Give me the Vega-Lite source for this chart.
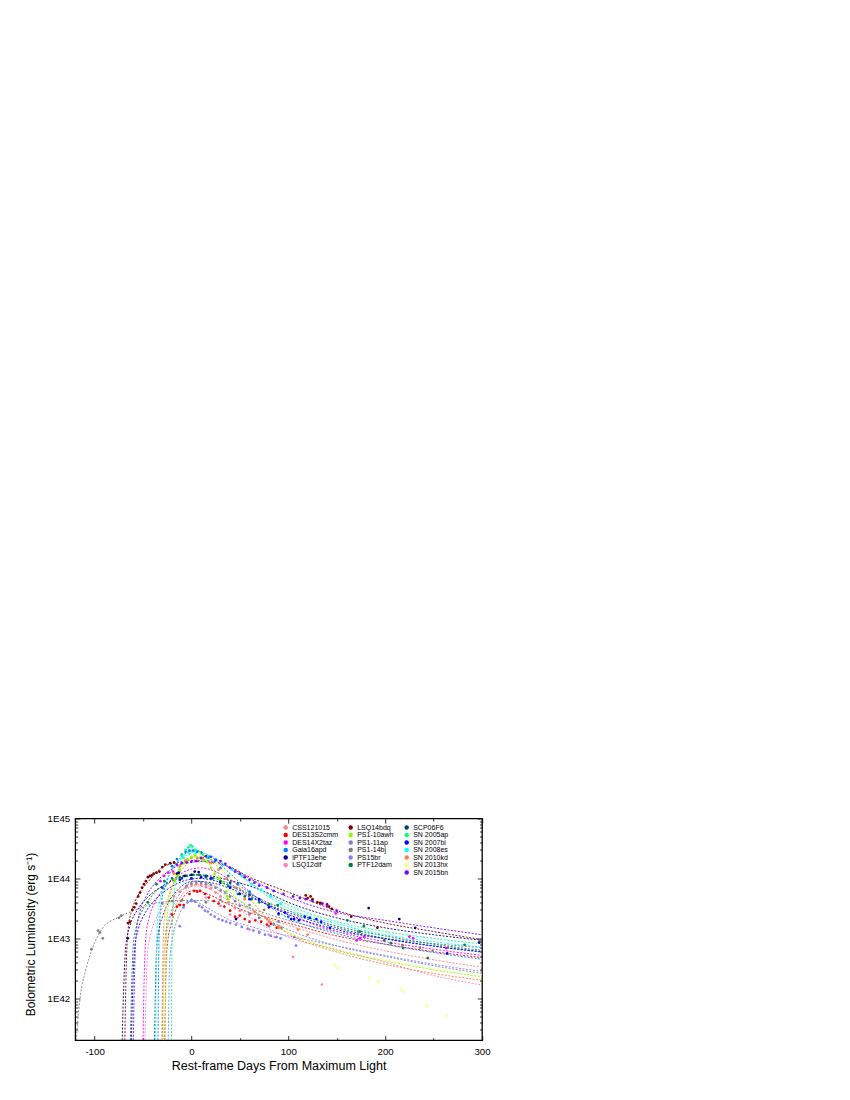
{"$schema":"https://vega.github.io/schema/vega-lite/v6.json","width":406.8,"height":221.7,"autosize":"none","padding":{"left":75.2,"top":818.5,"right":368,"bottom":59.8},"background":"white","config":{"view":{"stroke":"#000","strokeWidth":1.3},"font":"Liberation Sans"},
"datasets":{"lines":[
{"sn":"CSS121015","d":-29.5,"L":2e41},{"sn":"CSS121015","d":-28.8,"L":1.1e42},{"sn":"CSS121015","d":-27.7,"L":5.7e42},{"sn":"CSS121015","d":-25.9,"L":1.1e43},{"sn":"CSS121015","d":-22.2,"L":2.1e43},{"sn":"CSS121015","d":-16.7,"L":3.5e43},{"sn":"CSS121015","d":-9.4,"L":5.4e43},{"sn":"CSS121015","d":-0.3,"L":7.4e43},{"sn":"CSS121015","d":7,"L":8e43},{"sn":"CSS121015","d":20,"L":7.3e43},{"sn":"CSS121015","d":40,"L":4.8e43},{"sn":"CSS121015","d":60,"L":3e43},{"sn":"CSS121015","d":80,"L":2.1e43},{"sn":"CSS121015","d":100,"L":1.65e43},{"sn":"CSS121015","d":150,"L":9.5e42},{"sn":"CSS121015","d":200,"L":6.2e42},{"sn":"CSS121015","d":250,"L":4.4e42},{"sn":"CSS121015","d":300,"L":3.3e42},
{"sn":"DES13S2cmm","d":-27.5,"L":2e41},{"sn":"DES13S2cmm","d":-26.9,"L":8.8e41},{"sn":"DES13S2cmm","d":-26,"L":4.5e42},{"sn":"DES13S2cmm","d":-24.5,"L":8.8e42},{"sn":"DES13S2cmm","d":-21.4,"L":1.6e43},{"sn":"DES13S2cmm","d":-16.8,"L":2.8e43},{"sn":"DES13S2cmm","d":-10.7,"L":4.3e43},{"sn":"DES13S2cmm","d":-3.1,"L":5.9e43},{"sn":"DES13S2cmm","d":3,"L":6.3e43},{"sn":"DES13S2cmm","d":20,"L":5.2e43},{"sn":"DES13S2cmm","d":40,"L":3.6e43},{"sn":"DES13S2cmm","d":60,"L":2.7e43},{"sn":"DES13S2cmm","d":80,"L":2.2e43},{"sn":"DES13S2cmm","d":100,"L":1.8e43},{"sn":"DES13S2cmm","d":150,"L":1.1e43},{"sn":"DES13S2cmm","d":200,"L":8e42},{"sn":"DES13S2cmm","d":250,"L":6e42},{"sn":"DES13S2cmm","d":300,"L":4.8e42},
{"sn":"DES14X2taz","d":-50,"L":2e41},{"sn":"DES14X2taz","d":-48.8,"L":2.1e42},{"sn":"DES14X2taz","d":-47,"L":1.07e43},{"sn":"DES14X2taz","d":-44,"L":2.1e43},{"sn":"DES14X2taz","d":-38,"L":3.9e43},{"sn":"DES14X2taz","d":-29,"L":6.6e43},{"sn":"DES14X2taz","d":-17,"L":1.02e44},{"sn":"DES14X2taz","d":-2,"L":1.4e44},{"sn":"DES14X2taz","d":10,"L":1.5e44},{"sn":"DES14X2taz","d":20,"L":1.4e44},{"sn":"DES14X2taz","d":40,"L":9.5e43},{"sn":"DES14X2taz","d":60,"L":5.8e43},{"sn":"DES14X2taz","d":80,"L":3.6e43},{"sn":"DES14X2taz","d":100,"L":2.5e43},{"sn":"DES14X2taz","d":150,"L":1.3e43},{"sn":"DES14X2taz","d":200,"L":8.8e42},{"sn":"DES14X2taz","d":250,"L":6.6e42},{"sn":"DES14X2taz","d":300,"L":5.2e42},
{"sn":"Gaia16apd","d":-34.5,"L":2e41},{"sn":"Gaia16apd","d":-33.8,"L":4.1e42},{"sn":"Gaia16apd","d":-32.6,"L":2.1e43},{"sn":"Gaia16apd","d":-30.8,"L":4.1e43},{"sn":"Gaia16apd","d":-27,"L":7.5e43},{"sn":"Gaia16apd","d":-21.4,"L":1.28e44},{"sn":"Gaia16apd","d":-13.9,"L":1.97e44},{"sn":"Gaia16apd","d":-4.5,"L":2.7e44},{"sn":"Gaia16apd","d":3,"L":2.9e44},{"sn":"Gaia16apd","d":20,"L":2.3e44},{"sn":"Gaia16apd","d":40,"L":1.2e44},{"sn":"Gaia16apd","d":60,"L":6e43},{"sn":"Gaia16apd","d":80,"L":3.4e43},{"sn":"Gaia16apd","d":100,"L":2.2e43},{"sn":"Gaia16apd","d":150,"L":1.2e43},{"sn":"Gaia16apd","d":200,"L":8e42},{"sn":"Gaia16apd","d":250,"L":5.8e42},{"sn":"Gaia16apd","d":300,"L":4.5e42},
{"sn":"iPTF13ehe","d":-71.5,"L":2e41},{"sn":"iPTF13ehe","d":-69.9,"L":1.6e42},{"sn":"iPTF13ehe","d":-67.5,"L":8.2e42},{"sn":"iPTF13ehe","d":-63.5,"L":1.6e43},{"sn":"iPTF13ehe","d":-55.6,"L":3e43},{"sn":"iPTF13ehe","d":-43.7,"L":5.1e43},{"sn":"iPTF13ehe","d":-27.8,"L":7.8e43},{"sn":"iPTF13ehe","d":-7.9,"L":1.07e44},{"sn":"iPTF13ehe","d":8,"L":1.15e44},{"sn":"iPTF13ehe","d":20,"L":1.1e44},{"sn":"iPTF13ehe","d":40,"L":9.2e43},{"sn":"iPTF13ehe","d":60,"L":7.5e43},{"sn":"iPTF13ehe","d":80,"L":5.6e43},{"sn":"iPTF13ehe","d":100,"L":4e43},{"sn":"iPTF13ehe","d":150,"L":2.2e43},{"sn":"iPTF13ehe","d":200,"L":1.5e43},{"sn":"iPTF13ehe","d":250,"L":1.15e43},{"sn":"iPTF13ehe","d":300,"L":9.3e42},
{"sn":"LSQ12dlf","d":-48,"L":2e41},{"sn":"LSQ12dlf","d":-46.9,"L":1.05e42},{"sn":"LSQ12dlf","d":-45.4,"L":5.3e42},{"sn":"LSQ12dlf","d":-42.7,"L":1.05e43},{"sn":"LSQ12dlf","d":-37.4,"L":2e43},{"sn":"LSQ12dlf","d":-29.5,"L":3.3e43},{"sn":"LSQ12dlf","d":-18.9,"L":5.1e43},{"sn":"LSQ12dlf","d":-5.6,"L":7e43},{"sn":"LSQ12dlf","d":5,"L":7.5e43},{"sn":"LSQ12dlf","d":20,"L":6.5e43},{"sn":"LSQ12dlf","d":40,"L":4e43},{"sn":"LSQ12dlf","d":60,"L":2.3e43},{"sn":"LSQ12dlf","d":80,"L":1.45e43},{"sn":"LSQ12dlf","d":100,"L":1.05e43},{"sn":"LSQ12dlf","d":150,"L":6.5e42},{"sn":"LSQ12dlf","d":200,"L":4e42},{"sn":"LSQ12dlf","d":250,"L":2.4e42},{"sn":"LSQ12dlf","d":300,"L":1.66e42},
{"sn":"LSQ14bdq","d":-68.8,"L":2e41},{"sn":"LSQ14bdq","d":-67.4,"L":2.8e42},{"sn":"LSQ14bdq","d":-65.4,"L":1.4e43},{"sn":"LSQ14bdq","d":-61.9,"L":2.8e43},{"sn":"LSQ14bdq","d":-55,"L":5.2e43},{"sn":"LSQ14bdq","d":-44.7,"L":8.8e43},{"sn":"LSQ14bdq","d":-31,"L":1.5e44},{"sn":"LSQ14bdq","d":-13.8,"L":1.86e44},{"sn":"LSQ14bdq","d":0,"L":2e44},{"sn":"LSQ14bdq","d":20,"L":1.85e44},{"sn":"LSQ14bdq","d":40,"L":1.55e44},{"sn":"LSQ14bdq","d":60,"L":1.05e44},{"sn":"LSQ14bdq","d":80,"L":7.8e43},{"sn":"LSQ14bdq","d":100,"L":5.9e43},{"sn":"LSQ14bdq","d":150,"L":2.9e43},{"sn":"LSQ14bdq","d":200,"L":1.8e43},{"sn":"LSQ14bdq","d":250,"L":1.3e43},{"sn":"LSQ14bdq","d":300,"L":9.5e42},
{"sn":"PS1-10awh","d":-27,"L":2e41},{"sn":"PS1-10awh","d":-26.4,"L":3.2e42},{"sn":"PS1-10awh","d":-25.6,"L":1.6e43},{"sn":"PS1-10awh","d":-24.1,"L":3.2e43},{"sn":"PS1-10awh","d":-21.2,"L":6e43},{"sn":"PS1-10awh","d":-16.9,"L":1e44},{"sn":"PS1-10awh","d":-11.1,"L":1.56e44},{"sn":"PS1-10awh","d":-3.8,"L":2.1e44},{"sn":"PS1-10awh","d":2,"L":2.3e44},{"sn":"PS1-10awh","d":20,"L":1.6e44},{"sn":"PS1-10awh","d":40,"L":5.9e43},{"sn":"PS1-10awh","d":60,"L":3.3e43},{"sn":"PS1-10awh","d":80,"L":1.9e43},{"sn":"PS1-10awh","d":100,"L":1.25e43},{"sn":"PS1-10awh","d":150,"L":6.3e42},{"sn":"PS1-10awh","d":200,"L":4.2e42},{"sn":"PS1-10awh","d":250,"L":3e42},{"sn":"PS1-10awh","d":300,"L":2.3e42},
{"sn":"PS1-11ap","d":-30,"L":2e41},{"sn":"PS1-11ap","d":-29.3,"L":1.3e42},{"sn":"PS1-11ap","d":-28.2,"L":6.4e42},{"sn":"PS1-11ap","d":-26.4,"L":1.3e43},{"sn":"PS1-11ap","d":-22.8,"L":2.3e43},{"sn":"PS1-11ap","d":-17.4,"L":4e43},{"sn":"PS1-11ap","d":-10.2,"L":6.1e43},{"sn":"PS1-11ap","d":-1.2,"L":8.4e43},{"sn":"PS1-11ap","d":6,"L":9e43},{"sn":"PS1-11ap","d":20,"L":8e43},{"sn":"PS1-11ap","d":40,"L":5.3e43},{"sn":"PS1-11ap","d":60,"L":3.2e43},{"sn":"PS1-11ap","d":80,"L":2e43},{"sn":"PS1-11ap","d":100,"L":1.4e43},{"sn":"PS1-11ap","d":150,"L":7.5e42},{"sn":"PS1-11ap","d":200,"L":5e42},{"sn":"PS1-11ap","d":250,"L":3.5e42},{"sn":"PS1-11ap","d":300,"L":2.6e42},
{"sn":"PS1-14bj","d":-118.8,"L":2e41},{"sn":"PS1-14bj","d":-117.5,"L":4e41},{"sn":"PS1-14bj","d":-115,"L":1e42},{"sn":"PS1-14bj","d":-109,"L":3e42},{"sn":"PS1-14bj","d":-103,"L":6.3e42},{"sn":"PS1-14bj","d":-91.5,"L":1.5e43},{"sn":"PS1-14bj","d":-74,"L":2.3e43},{"sn":"PS1-14bj","d":-57,"L":3e43},{"sn":"PS1-14bj","d":-33,"L":4e43},{"sn":"PS1-14bj","d":0,"L":4.3e43},{"sn":"PS1-14bj","d":20,"L":4.2e43},{"sn":"PS1-14bj","d":50,"L":3.6e43},{"sn":"PS1-14bj","d":80,"L":2.5e43},{"sn":"PS1-14bj","d":100,"L":2e43},{"sn":"PS1-14bj","d":150,"L":1.3e43},{"sn":"PS1-14bj","d":200,"L":1e43},{"sn":"PS1-14bj","d":250,"L":8.2e42},{"sn":"PS1-14bj","d":300,"L":7e42},
{"sn":"PS15br","d":-24,"L":2e41},{"sn":"PS15br","d":-23.5,"L":5.9e41},{"sn":"PS15br","d":-22.8,"L":3e42},{"sn":"PS15br","d":-21.6,"L":5.9e42},{"sn":"PS15br","d":-19.2,"L":1.1e43},{"sn":"PS15br","d":-15.6,"L":1.85e43},{"sn":"PS15br","d":-10.8,"L":2.9e43},{"sn":"PS15br","d":-4.8,"L":3.9e43},{"sn":"PS15br","d":0,"L":4.2e43},{"sn":"PS15br","d":20,"L":3e43},{"sn":"PS15br","d":40,"L":2e43},{"sn":"PS15br","d":60,"L":1.6e43},{"sn":"PS15br","d":80,"L":1.3e43},{"sn":"PS15br","d":100,"L":1.1e43},{"sn":"PS15br","d":150,"L":7.5e42},{"sn":"PS15br","d":200,"L":5.2e42},{"sn":"PS15br","d":250,"L":3.7e42},{"sn":"PS15br","d":300,"L":2.8e42},
{"sn":"PTF12dam","d":-63,"L":2e41},{"sn":"PTF12dam","d":-61.7,"L":1.6e42},{"sn":"PTF12dam","d":-59.9,"L":8.2e42},{"sn":"PTF12dam","d":-56.7,"L":1.6e43},{"sn":"PTF12dam","d":-50.4,"L":3e43},{"sn":"PTF12dam","d":-41,"L":5.1e43},{"sn":"PTF12dam","d":-28.4,"L":7.8e43},{"sn":"PTF12dam","d":-12.6,"L":1.07e44},{"sn":"PTF12dam","d":0,"L":1.15e44},{"sn":"PTF12dam","d":20,"L":1.05e44},{"sn":"PTF12dam","d":40,"L":8e43},{"sn":"PTF12dam","d":60,"L":5.5e43},{"sn":"PTF12dam","d":80,"L":3.9e43},{"sn":"PTF12dam","d":100,"L":2.9e43},{"sn":"PTF12dam","d":150,"L":1.6e43},{"sn":"PTF12dam","d":200,"L":1.1e43},{"sn":"PTF12dam","d":250,"L":8e42},{"sn":"PTF12dam","d":300,"L":6.3e42},
{"sn":"SCP06F6","d":-38,"L":2e41},{"sn":"SCP06F6","d":-37.2,"L":1.3e42},{"sn":"SCP06F6","d":-36,"L":6.4e42},{"sn":"SCP06F6","d":-33.9,"L":1.3e43},{"sn":"SCP06F6","d":-29.8,"L":2.3e43},{"sn":"SCP06F6","d":-23.7,"L":4e43},{"sn":"SCP06F6","d":-15.5,"L":6.1e43},{"sn":"SCP06F6","d":-5.2,"L":8.4e43},{"sn":"SCP06F6","d":3,"L":9e43},{"sn":"SCP06F6","d":20,"L":8.5e43},{"sn":"SCP06F6","d":40,"L":6.8e43},{"sn":"SCP06F6","d":60,"L":4.9e43},{"sn":"SCP06F6","d":80,"L":3.6e43},{"sn":"SCP06F6","d":100,"L":2.7e43},{"sn":"SCP06F6","d":150,"L":1.5e43},{"sn":"SCP06F6","d":200,"L":1e43},{"sn":"SCP06F6","d":250,"L":7.5e42},{"sn":"SCP06F6","d":300,"L":6e42},
{"sn":"SN 2005ap","d":-20.6,"L":2e41},{"sn":"SN 2005ap","d":-20.2,"L":4.3e42},{"sn":"SN 2005ap","d":-19.6,"L":2.2e43},{"sn":"SN 2005ap","d":-18.5,"L":4.3e43},{"sn":"SN 2005ap","d":-16.5,"L":8.1e43},{"sn":"SN 2005ap","d":-13.4,"L":1.36e44},{"sn":"SN 2005ap","d":-9.3,"L":2.1e44},{"sn":"SN 2005ap","d":-4.1,"L":2.9e44},{"sn":"SN 2005ap","d":0,"L":3.1e44},{"sn":"SN 2005ap","d":20,"L":2.3e44},{"sn":"SN 2005ap","d":40,"L":1.45e44},{"sn":"SN 2005ap","d":60,"L":8.8e43},{"sn":"SN 2005ap","d":80,"L":5.3e43},{"sn":"SN 2005ap","d":100,"L":3.6e43},{"sn":"SN 2005ap","d":150,"L":1.9e43},{"sn":"SN 2005ap","d":200,"L":1.3e43},{"sn":"SN 2005ap","d":250,"L":1e43},{"sn":"SN 2005ap","d":300,"L":8.1e42},
{"sn":"SN 2007bi","d":-62,"L":2e41},{"sn":"SN 2007bi","d":-60.6,"L":1.4e42},{"sn":"SN 2007bi","d":-58.5,"L":7.1e42},{"sn":"SN 2007bi","d":-55,"L":1.4e43},{"sn":"SN 2007bi","d":-48,"L":2.6e43},{"sn":"SN 2007bi","d":-37.5,"L":4.4e43},{"sn":"SN 2007bi","d":-23.5,"L":6.8e43},{"sn":"SN 2007bi","d":-6,"L":9.3e43},{"sn":"SN 2007bi","d":8,"L":1e44},{"sn":"SN 2007bi","d":20,"L":9.5e43},{"sn":"SN 2007bi","d":40,"L":7.5e43},{"sn":"SN 2007bi","d":60,"L":5.2e43},{"sn":"SN 2007bi","d":80,"L":3.5e43},{"sn":"SN 2007bi","d":100,"L":2.5e43},{"sn":"SN 2007bi","d":150,"L":1.4e43},{"sn":"SN 2007bi","d":200,"L":9.8e42},{"sn":"SN 2007bi","d":250,"L":7.4e42},{"sn":"SN 2007bi","d":300,"L":5.9e42},
{"sn":"SN 2008es","d":-37,"L":2e41},{"sn":"SN 2008es","d":-36.2,"L":3.8e42},{"sn":"SN 2008es","d":-35,"L":1.9e43},{"sn":"SN 2008es","d":-32.9,"L":3.8e43},{"sn":"SN 2008es","d":-28.8,"L":7e43},{"sn":"SN 2008es","d":-22.7,"L":1.19e44},{"sn":"SN 2008es","d":-14.5,"L":1.84e44},{"sn":"SN 2008es","d":-4.2,"L":2.5e44},{"sn":"SN 2008es","d":4,"L":2.7e44},{"sn":"SN 2008es","d":20,"L":2.4e44},{"sn":"SN 2008es","d":40,"L":1.5e44},{"sn":"SN 2008es","d":60,"L":8.5e43},{"sn":"SN 2008es","d":80,"L":4.9e43},{"sn":"SN 2008es","d":100,"L":3.2e43},{"sn":"SN 2008es","d":150,"L":1.75e43},{"sn":"SN 2008es","d":200,"L":1.15e43},{"sn":"SN 2008es","d":250,"L":8.8e42},{"sn":"SN 2008es","d":300,"L":7.1e42},
{"sn":"SN 2010kd","d":-30.5,"L":2e41},{"sn":"SN 2010kd","d":-29.7,"L":2.9e42},{"sn":"SN 2010kd","d":-28.6,"L":1.5e43},{"sn":"SN 2010kd","d":-26.7,"L":2.9e43},{"sn":"SN 2010kd","d":-22.8,"L":5.5e43},{"sn":"SN 2010kd","d":-17,"L":9.2e43},{"sn":"SN 2010kd","d":-9.3,"L":1.43e44},{"sn":"SN 2010kd","d":0.3,"L":1.95e44},{"sn":"SN 2010kd","d":8,"L":2.1e44},{"sn":"SN 2010kd","d":20,"L":1.9e44},{"sn":"SN 2010kd","d":40,"L":1e44},{"sn":"SN 2010kd","d":60,"L":4.6e43},{"sn":"SN 2010kd","d":80,"L":2e43},{"sn":"SN 2010kd","d":100,"L":1.2e43},{"sn":"SN 2010kd","d":150,"L":5.9e42},{"sn":"SN 2010kd","d":200,"L":3.7e42},{"sn":"SN 2010kd","d":250,"L":2.6e42},{"sn":"SN 2010kd","d":300,"L":2e42},
{"sn":"SN 2013hx","d":-29,"L":2e41},{"sn":"SN 2013hx","d":-28.3,"L":3.6e42},{"sn":"SN 2013hx","d":-27.3,"L":1.85e43},{"sn":"SN 2013hx","d":-25.6,"L":3.6e43},{"sn":"SN 2013hx","d":-22.2,"L":6.8e43},{"sn":"SN 2013hx","d":-17.1,"L":1.14e44},{"sn":"SN 2013hx","d":-10.3,"L":1.77e44},{"sn":"SN 2013hx","d":-1.8,"L":2.4e44},{"sn":"SN 2013hx","d":5,"L":2.6e44},{"sn":"SN 2013hx","d":20,"L":2.2e44},{"sn":"SN 2013hx","d":40,"L":1.1e44},{"sn":"SN 2013hx","d":60,"L":5e43},{"sn":"SN 2013hx","d":80,"L":2.3e43},{"sn":"SN 2013hx","d":100,"L":1.3e43},{"sn":"SN 2013hx","d":150,"L":6.8e42},{"sn":"SN 2013hx","d":200,"L":4.4e42},{"sn":"SN 2013hx","d":250,"L":3.2e42},{"sn":"SN 2013hx","d":300,"L":2.5e42},
{"sn":"SN 2015bn","d":-60,"L":2e41},{"sn":"SN 2015bn","d":-58.7,"L":2.7e42},{"sn":"SN 2015bn","d":-56.8,"L":1.35e43},{"sn":"SN 2015bn","d":-53.5,"L":2.7e43},{"sn":"SN 2015bn","d":-47,"L":4.9e43},{"sn":"SN 2015bn","d":-37.3,"L":8.4e43},{"sn":"SN 2015bn","d":-24.3,"L":1.29e44},{"sn":"SN 2015bn","d":-8,"L":1.77e44},{"sn":"SN 2015bn","d":5,"L":1.9e44},{"sn":"SN 2015bn","d":20,"L":1.95e44},{"sn":"SN 2015bn","d":40,"L":1.5e44},{"sn":"SN 2015bn","d":60,"L":1e44},{"sn":"SN 2015bn","d":80,"L":6.8e43},{"sn":"SN 2015bn","d":100,"L":4.9e43},{"sn":"SN 2015bn","d":150,"L":2.7e43},{"sn":"SN 2015bn","d":200,"L":2e43},{"sn":"SN 2015bn","d":250,"L":1.5e43},{"sn":"SN 2015bn","d":300,"L":1.15e43}
],
"pts":[
{"sn":"PS1-14bj","d":-103.2,"L":6.6e42},{"sn":"PS1-14bj","d":-96.4,"L":1.35e43},{"sn":"PS1-14bj","d":-94.6,"L":1.25e43},{"sn":"PS1-14bj","d":-91.5,"L":1e43},{"sn":"PS1-14bj","d":-74.8,"L":2.2e43},{"sn":"PS1-14bj","d":-72.4,"L":2.4e43},{"sn":"PS1-14bj","d":-30,"L":3.8e43},{"sn":"PS1-14bj","d":-20,"L":4.2e43},{"sn":"PS1-14bj","d":-10,"L":4.3e43},{"sn":"PS1-14bj","d":0,"L":4.4e43},{"sn":"PS1-14bj","d":15,"L":4e43},{"sn":"PS1-14bj","d":30,"L":4.4e43},{"sn":"PS1-14bj","d":45,"L":4.2e43},{"sn":"PS1-14bj","d":60,"L":3.6e43},{"sn":"PS1-14bj","d":75,"L":3e43},{"sn":"PS1-14bj","d":90,"L":2.5e43},{"sn":"PS1-14bj","d":93,"L":1.5e43},{"sn":"PS1-14bj","d":172,"L":1.3e43},{"sn":"PS1-14bj","d":218,"L":7.7e42},{"sn":"PS1-14bj","d":236,"L":7e42},{"sn":"PS1-14bj","d":249,"L":6.2e42},{"sn":"PS1-14bj","d":298,"L":9.2e42},
{"sn":"CSS121015","d":-18,"L":5e43},{"sn":"CSS121015","d":-12,"L":6e43},{"sn":"CSS121015","d":-6,"L":7e43},{"sn":"CSS121015","d":0,"L":7.8e43},{"sn":"CSS121015","d":5,"L":8e43},{"sn":"CSS121015","d":10,"L":7.8e43},{"sn":"CSS121015","d":15,"L":7.2e43},{"sn":"CSS121015","d":20,"L":6.8e43},{"sn":"CSS121015","d":25,"L":5.8e43},{"sn":"CSS121015","d":30,"L":5e43},{"sn":"CSS121015","d":38,"L":4e43},{"sn":"CSS121015","d":45,"L":3.2e43},{"sn":"CSS121015","d":50,"L":2.9e43},{"sn":"CSS121015","d":60,"L":2.5e43},{"sn":"CSS121015","d":70,"L":2.2e43},{"sn":"CSS121015","d":80,"L":1.9e43},{"sn":"CSS121015","d":90,"L":1.6e43},
{"sn":"PS1-11ap","d":-5,"L":7.5e43},{"sn":"PS1-11ap","d":0,"L":8.2e43},{"sn":"PS1-11ap","d":5,"L":8.7e43},{"sn":"PS1-11ap","d":10,"L":8.5e43},{"sn":"PS1-11ap","d":15,"L":8e43},{"sn":"PS1-11ap","d":20,"L":7.8e43},{"sn":"PS1-11ap","d":25,"L":7e43},{"sn":"PS1-11ap","d":30,"L":6.3e43},{"sn":"PS1-11ap","d":35,"L":5.8e43},{"sn":"PS1-11ap","d":40,"L":5e43},{"sn":"PS1-11ap","d":50,"L":3.5e43},{"sn":"PS1-11ap","d":60,"L":2.6e43},{"sn":"PS1-11ap","d":70,"L":2.2e43},{"sn":"PS1-11ap","d":80,"L":1.6e43},{"sn":"PS1-11ap","d":85,"L":1.7e43},{"sn":"PS1-11ap","d":90,"L":1.9e43},
{"sn":"LSQ12dlf","d":15,"L":4.8e43},{"sn":"LSQ12dlf","d":30,"L":3.5e43},{"sn":"LSQ12dlf","d":40,"L":2.5e43},{"sn":"LSQ12dlf","d":48,"L":2.2e43},{"sn":"LSQ12dlf","d":60,"L":1.4e43},{"sn":"LSQ12dlf","d":70,"L":1.3e43},{"sn":"LSQ12dlf","d":80,"L":1.15e43},{"sn":"LSQ12dlf","d":86,"L":1.05e43},{"sn":"LSQ12dlf","d":105,"L":4.9e42},{"sn":"LSQ12dlf","d":134.7,"L":1.7e42},
{"sn":"DES13S2cmm","d":-20,"L":2.5e43},{"sn":"DES13S2cmm","d":-15,"L":3.4e43},{"sn":"DES13S2cmm","d":-12,"L":3.6e43},{"sn":"DES13S2cmm","d":-8,"L":3.6e43},{"sn":"DES13S2cmm","d":-2,"L":5.5e43},{"sn":"DES13S2cmm","d":3,"L":6.2e43},{"sn":"DES13S2cmm","d":6,"L":6e43},{"sn":"DES13S2cmm","d":9,"L":6.2e43},{"sn":"DES13S2cmm","d":14,"L":5.5e43},{"sn":"DES13S2cmm","d":18,"L":4.8e43},{"sn":"DES13S2cmm","d":23,"L":4.2e43},{"sn":"DES13S2cmm","d":28,"L":3.8e43},{"sn":"DES13S2cmm","d":34,"L":3.4e43},{"sn":"DES13S2cmm","d":40,"L":2.9e43},{"sn":"DES13S2cmm","d":45,"L":2.3e43},{"sn":"DES13S2cmm","d":50,"L":2.4e43},{"sn":"DES13S2cmm","d":55,"L":2.1e43},{"sn":"DES13S2cmm","d":60,"L":1.9e43},{"sn":"DES13S2cmm","d":66,"L":2e43},{"sn":"DES13S2cmm","d":72,"L":1.9e43},{"sn":"DES13S2cmm","d":78,"L":1.7e43},{"sn":"DES13S2cmm","d":82,"L":1.75e43},{"sn":"DES13S2cmm","d":88,"L":1.5e43},
{"sn":"PS15br","d":-12,"L":1.6e43},{"sn":"PS15br","d":-8,"L":3.3e43},{"sn":"PS15br","d":-4,"L":4e43},{"sn":"PS15br","d":0,"L":4.2e43},{"sn":"PS15br","d":4,"L":4.1e43},{"sn":"PS15br","d":8,"L":3.5e43},{"sn":"PS15br","d":11,"L":3.3e43},{"sn":"PS15br","d":14,"L":2.9e43},{"sn":"PS15br","d":17,"L":2.8e43},{"sn":"PS15br","d":20,"L":2.5e43},{"sn":"PS15br","d":24,"L":2.3e43},{"sn":"PS15br","d":28,"L":2.1e43},{"sn":"PS15br","d":32,"L":2e43},{"sn":"PS15br","d":36,"L":1.9e43},{"sn":"PS15br","d":40,"L":1.8e43},{"sn":"PS15br","d":46,"L":1.7e43},{"sn":"PS15br","d":52,"L":1.55e43},{"sn":"PS15br","d":58,"L":1.45e43},{"sn":"PS15br","d":64,"L":1.35e43},{"sn":"PS15br","d":70,"L":1.25e43},{"sn":"PS15br","d":76,"L":1.15e43},{"sn":"PS15br","d":82,"L":1.1e43},{"sn":"PS15br","d":88,"L":1.05e43},{"sn":"PS15br","d":92,"L":1e43},{"sn":"PS15br","d":106,"L":1.05e43},{"sn":"PS15br","d":108,"L":7.6e42},
{"sn":"PTF12dam","d":-45,"L":4e43},{"sn":"PTF12dam","d":-36,"L":8e43},{"sn":"PTF12dam","d":-28,"L":9e43},{"sn":"PTF12dam","d":-20,"L":1e44},{"sn":"PTF12dam","d":-12,"L":1.05e44},{"sn":"PTF12dam","d":-5,"L":1.1e44},{"sn":"PTF12dam","d":2,"L":1.15e44},{"sn":"PTF12dam","d":8,"L":1.15e44},{"sn":"PTF12dam","d":15,"L":1.05e44},{"sn":"PTF12dam","d":22,"L":1e44},{"sn":"PTF12dam","d":30,"L":9e43},{"sn":"PTF12dam","d":38,"L":7.5e43},{"sn":"PTF12dam","d":48,"L":5.5e43},{"sn":"PTF12dam","d":55,"L":5e43},{"sn":"PTF12dam","d":62,"L":4.5e43},{"sn":"PTF12dam","d":70,"L":4e43},{"sn":"PTF12dam","d":80,"L":3.7e43},{"sn":"PTF12dam","d":89,"L":3.6e43},{"sn":"PTF12dam","d":161,"L":2e43},{"sn":"PTF12dam","d":178,"L":1.6e43},{"sn":"PTF12dam","d":174,"L":1.3e43},{"sn":"PTF12dam","d":199,"L":9.3e42},{"sn":"PTF12dam","d":206,"L":8.3e42},{"sn":"PTF12dam","d":218.6,"L":6.9e42},{"sn":"PTF12dam","d":244,"L":4.7e42},{"sn":"PTF12dam","d":282,"L":7.8e42},
{"sn":"SN 2007bi","d":-12,"L":9.5e43},{"sn":"SN 2007bi","d":0,"L":1e44},{"sn":"SN 2007bi","d":10,"L":1.05e44},{"sn":"SN 2007bi","d":20,"L":1e44},{"sn":"SN 2007bi","d":30,"L":8.5e43},{"sn":"SN 2007bi","d":40,"L":7e43},{"sn":"SN 2007bi","d":50,"L":5.5e43},{"sn":"SN 2007bi","d":60,"L":4.5e43},{"sn":"SN 2007bi","d":70,"L":4.5e43},{"sn":"SN 2007bi","d":80,"L":3.3e43},{"sn":"SN 2007bi","d":90,"L":2.6e43},{"sn":"SN 2007bi","d":96.5,"L":2.7e43},{"sn":"SN 2007bi","d":103,"L":2.1e43},{"sn":"SN 2007bi","d":106,"L":2.1e43},{"sn":"SN 2007bi","d":111,"L":2e43},{"sn":"SN 2007bi","d":117,"L":2.3e43},{"sn":"SN 2007bi","d":122,"L":2.2e43},{"sn":"SN 2007bi","d":129,"L":2.1e43},{"sn":"SN 2007bi","d":134,"L":1.9e43},{"sn":"SN 2007bi","d":143,"L":1.5e43},{"sn":"SN 2007bi","d":264,"L":5.6e42},
{"sn":"iPTF13ehe","d":-65.7,"L":1e43},{"sn":"iPTF13ehe","d":-15,"L":1.2e44},{"sn":"iPTF13ehe","d":-13,"L":1.25e44},{"sn":"iPTF13ehe","d":-7,"L":1.1e44},{"sn":"iPTF13ehe","d":0,"L":1.15e44},{"sn":"iPTF13ehe","d":3.4,"L":1.3e44},{"sn":"iPTF13ehe","d":7.5,"L":1.28e44},{"sn":"iPTF13ehe","d":46,"L":2.1e43},{"sn":"iPTF13ehe","d":183,"L":3.2e43},{"sn":"iPTF13ehe","d":214.6,"L":2.1e43},{"sn":"iPTF13ehe","d":231,"L":1.5e43},{"sn":"iPTF13ehe","d":297,"L":8.5e42},
{"sn":"SCP06F6","d":-30,"L":7e43},{"sn":"SCP06F6","d":-10,"L":1e44},{"sn":"SCP06F6","d":0,"L":1e44},{"sn":"SCP06F6","d":15,"L":1.1e44},{"sn":"SCP06F6","d":40,"L":8.5e43},{"sn":"SCP06F6","d":60,"L":5.3e43},
{"sn":"DES14X2taz","d":-32,"L":9e43},{"sn":"DES14X2taz","d":-28,"L":1.1e44},{"sn":"DES14X2taz","d":-24,"L":1.25e44},{"sn":"DES14X2taz","d":-19,"L":1.3e44},{"sn":"DES14X2taz","d":149,"L":2.6e43},{"sn":"DES14X2taz","d":170.6,"L":9.3e42},{"sn":"DES14X2taz","d":174,"L":1e43},{"sn":"DES14X2taz","d":178.5,"L":1.05e43},{"sn":"DES14X2taz","d":225,"L":1.07e43},{"sn":"DES14X2taz","d":229,"L":1e43},{"sn":"DES14X2taz","d":263,"L":6.9e42},
{"sn":"SN 2010kd","d":-18,"L":1.2e44},{"sn":"SN 2010kd","d":-12,"L":1.6e44},{"sn":"SN 2010kd","d":-6,"L":2e44},{"sn":"SN 2010kd","d":0,"L":2.2e44},{"sn":"SN 2010kd","d":6,"L":2.2e44},{"sn":"SN 2010kd","d":12,"L":2.2e44},{"sn":"SN 2010kd","d":20,"L":1.8e44},{"sn":"SN 2010kd","d":28,"L":1.4e44},{"sn":"SN 2010kd","d":36,"L":1e44},{"sn":"SN 2010kd","d":45,"L":7e43},{"sn":"SN 2010kd","d":55,"L":4.5e43},{"sn":"SN 2010kd","d":65,"L":2.8e43},{"sn":"SN 2010kd","d":78,"L":2.1e43},{"sn":"SN 2010kd","d":90,"L":1.5e43},{"sn":"SN 2010kd","d":110,"L":1.4e43},{"sn":"SN 2010kd","d":120,"L":1.15e43},
{"sn":"SN 2008es","d":-8,"L":2.2e44},{"sn":"SN 2008es","d":-2,"L":2.6e44},{"sn":"SN 2008es","d":4,"L":2.6e44},{"sn":"SN 2008es","d":10,"L":2.6e44},{"sn":"SN 2008es","d":18,"L":2.3e44},{"sn":"SN 2008es","d":26,"L":2e44},{"sn":"SN 2008es","d":34,"L":1.7e44},{"sn":"SN 2008es","d":42,"L":1.4e44},{"sn":"SN 2008es","d":52,"L":1.1e44},{"sn":"SN 2008es","d":62,"L":8e43},{"sn":"SN 2008es","d":72,"L":6.5e43},{"sn":"SN 2008es","d":82,"L":5e43},{"sn":"SN 2008es","d":92,"L":3.8e43},
{"sn":"Gaia16apd","d":-20,"L":1.6e44},{"sn":"Gaia16apd","d":-15,"L":2.1e44},{"sn":"Gaia16apd","d":-10,"L":2.5e44},{"sn":"Gaia16apd","d":-6,"L":2.8e44},{"sn":"Gaia16apd","d":-2,"L":2.9e44},{"sn":"Gaia16apd","d":2,"L":2.9e44},{"sn":"Gaia16apd","d":6,"L":2.8e44},{"sn":"Gaia16apd","d":10,"L":2.7e44},{"sn":"Gaia16apd","d":14,"L":2.4e44},{"sn":"Gaia16apd","d":18,"L":2.2e44},{"sn":"Gaia16apd","d":24,"L":1.9e44},{"sn":"Gaia16apd","d":30,"L":1.5e44},{"sn":"Gaia16apd","d":38,"L":1.1e44},{"sn":"Gaia16apd","d":48,"L":8e43},{"sn":"Gaia16apd","d":60,"L":6e43},{"sn":"Gaia16apd","d":100,"L":2.3e43},
{"sn":"SN 2005ap","d":-10,"L":2.4e44},{"sn":"SN 2005ap","d":-6,"L":3e44},{"sn":"SN 2005ap","d":-3,"L":3.3e44},{"sn":"SN 2005ap","d":-1,"L":3.6e44},{"sn":"SN 2005ap","d":1,"L":3.4e44},{"sn":"SN 2005ap","d":4,"L":3e44},{"sn":"SN 2005ap","d":8,"L":2.7e44},{"sn":"SN 2005ap","d":12,"L":2.5e44},{"sn":"SN 2005ap","d":16,"L":2.2e44},{"sn":"SN 2005ap","d":20,"L":2.1e44},
{"sn":"SN 2013hx","d":-8,"L":1.7e44},{"sn":"SN 2013hx","d":-3,"L":2.1e44},{"sn":"SN 2013hx","d":3,"L":2.5e44},{"sn":"SN 2013hx","d":8,"L":2.6e44},{"sn":"SN 2013hx","d":14,"L":2.5e44},{"sn":"SN 2013hx","d":20,"L":2.2e44},{"sn":"SN 2013hx","d":26,"L":1.8e44},{"sn":"SN 2013hx","d":33,"L":1.3e44},{"sn":"SN 2013hx","d":40,"L":1e44},{"sn":"SN 2013hx","d":148,"L":3.6e42},{"sn":"SN 2013hx","d":151,"L":3.2e42},{"sn":"SN 2013hx","d":184,"L":2.2e42},{"sn":"SN 2013hx","d":193,"L":1.9e42},{"sn":"SN 2013hx","d":216,"L":1.45e42},{"sn":"SN 2013hx","d":218.6,"L":1.3e42},{"sn":"SN 2013hx","d":243,"L":7.6e41},{"sn":"SN 2013hx","d":263.6,"L":5.1e41},
{"sn":"PS1-10awh","d":-17,"L":9e43},{"sn":"PS1-10awh","d":-14,"L":1.1e44},{"sn":"PS1-10awh","d":-12,"L":1.4e44},{"sn":"PS1-10awh","d":-8,"L":1.8e44},{"sn":"PS1-10awh","d":-4,"L":2.1e44},{"sn":"PS1-10awh","d":0,"L":2.3e44},{"sn":"PS1-10awh","d":4,"L":2.4e44},{"sn":"PS1-10awh","d":8,"L":2.2e44},{"sn":"PS1-10awh","d":12,"L":2e44},{"sn":"PS1-10awh","d":16,"L":1.9e44},{"sn":"PS1-10awh","d":20,"L":1.5e44},{"sn":"PS1-10awh","d":24,"L":1.2e44},{"sn":"PS1-10awh","d":28,"L":1e44},{"sn":"PS1-10awh","d":32,"L":8.5e43},{"sn":"PS1-10awh","d":36,"L":6e43},{"sn":"PS1-10awh","d":37,"L":5e43},{"sn":"PS1-10awh","d":38,"L":4.5e43},
{"sn":"LSQ14bdq","d":-65.5,"L":1.8e43},{"sn":"LSQ14bdq","d":-63.5,"L":1.9e43},{"sn":"LSQ14bdq","d":-61,"L":3e43},{"sn":"LSQ14bdq","d":-59,"L":3.3e43},{"sn":"LSQ14bdq","d":-57,"L":3.8e43},{"sn":"LSQ14bdq","d":-55,"L":5e43},{"sn":"LSQ14bdq","d":-53,"L":5.8e43},{"sn":"LSQ14bdq","d":-51,"L":7e43},{"sn":"LSQ14bdq","d":-49,"L":8e43},{"sn":"LSQ14bdq","d":-47,"L":9e43},{"sn":"LSQ14bdq","d":-45,"L":1.05e44},{"sn":"LSQ14bdq","d":-43,"L":1.1e44},{"sn":"LSQ14bdq","d":-41,"L":1.12e44},{"sn":"LSQ14bdq","d":-39,"L":1.2e44},{"sn":"LSQ14bdq","d":-36,"L":1.25e44},{"sn":"LSQ14bdq","d":-33,"L":1.3e44},{"sn":"LSQ14bdq","d":-30,"L":1.55e44},{"sn":"LSQ14bdq","d":-27,"L":1.7e44},{"sn":"LSQ14bdq","d":-22,"L":1.8e44},{"sn":"LSQ14bdq","d":-18,"L":1.85e44},{"sn":"LSQ14bdq","d":118,"L":5.2e43},{"sn":"LSQ14bdq","d":120,"L":4.7e43},{"sn":"LSQ14bdq","d":123,"L":5e43},{"sn":"LSQ14bdq","d":125,"L":4.5e43},{"sn":"LSQ14bdq","d":130,"L":4e43},{"sn":"LSQ14bdq","d":133,"L":3.9e43},{"sn":"LSQ14bdq","d":135,"L":3.8e43},{"sn":"LSQ14bdq","d":140,"L":3.7e43},{"sn":"LSQ14bdq","d":142,"L":3.4e43},{"sn":"LSQ14bdq","d":145,"L":3.1e43},{"sn":"LSQ14bdq","d":165,"L":2.3e43},{"sn":"LSQ14bdq","d":192,"L":1.5e43},
{"sn":"SN 2015bn","d":-15,"L":1.7e44},{"sn":"SN 2015bn","d":-10,"L":1.8e44},{"sn":"SN 2015bn","d":-5,"L":1.85e44},{"sn":"SN 2015bn","d":0,"L":1.9e44},{"sn":"SN 2015bn","d":5,"L":1.95e44},{"sn":"SN 2015bn","d":10,"L":2.2e44},{"sn":"SN 2015bn","d":15,"L":2.35e44},{"sn":"SN 2015bn","d":20,"L":2.3e44},{"sn":"SN 2015bn","d":25,"L":2.05e44},{"sn":"SN 2015bn","d":30,"L":1.95e44},{"sn":"SN 2015bn","d":35,"L":1.75e44},{"sn":"SN 2015bn","d":40,"L":1.5e44},{"sn":"SN 2015bn","d":45,"L":1.3e44},{"sn":"SN 2015bn","d":50,"L":1.2e44},{"sn":"SN 2015bn","d":55,"L":1.05e44},{"sn":"SN 2015bn","d":60,"L":9.5e43},{"sn":"SN 2015bn","d":65,"L":8.5e43},{"sn":"SN 2015bn","d":70,"L":7.6e43},{"sn":"SN 2015bn","d":78,"L":7e43},{"sn":"SN 2015bn","d":85,"L":6.2e43},{"sn":"SN 2015bn","d":95,"L":5.5e43},{"sn":"SN 2015bn","d":105,"L":5e43},{"sn":"SN 2015bn","d":112,"L":4.7e43},{"sn":"SN 2015bn","d":118,"L":4.5e43},{"sn":"SN 2015bn","d":125,"L":4.2e43},{"sn":"SN 2015bn","d":135,"L":3.8e43},{"sn":"SN 2015bn","d":140,"L":3.5e43},{"sn":"SN 2015bn","d":150,"L":2.9e43}
],
"frame":[{"d":0,"L":1e43}]},
"layer":[
{"data":{"name":"lines"},"mark":{"type":"line","interpolate":"monotone","strokeWidth":0.9,"strokeDash":[2,1.5],"clip":true},
"encoding":{"x":{"field":"d","type":"quantitative","scale":{"domain":[-120,300],"nice":false,"zero":false},"axis":{"orient":"bottom","values":[-100,0,100,200,300],"labelExpr":"''+datum.value","title":"Rest-frame Days From Maximum Light","titleFont":"Liberation Sans","titleFontSize":12.5,"titleFontWeight":"normal","titleColor":"#000","titlePadding":4,"labelFont":"Liberation Sans","labelFontSize":9.7,"labelColor":"#000","labelPadding":10.5,"labelFlush":false,"tickSize":-4.7,"tickColor":"#000","tickWidth":0.8,"domain":false,"grid":false}},
"y":{"field":"L","type":"quantitative","scale":{"type":"log","base":10,"domain":[2e41,1e45],"nice":false},"axis":{"orient":"left","values":[1e42,1e43,1e44,1e45],"labelExpr":"'1E'+round(log(datum.value)/LN10)","title":"Bolometric Luminosity (erg s⁻¹)","titleFont":"Liberation Sans","titleFontSize":12,"titleFontWeight":"normal","titleColor":"#000","titleX":-38,"titleY":115.5,"labelFont":"Liberation Sans","labelFontSize":9.7,"labelColor":"#000","labelPadding":10.2,"labelFlush":false,"tickSize":-4.7,"tickColor":"#000","tickWidth":0.8,"domain":false,"grid":false}},
"color":{"field":"sn","type":"nominal","legend":{"orient":"none","legendX":207,"legendY":5.5,"title":null,"direction":"vertical","columns":3,"columnPadding":9,"rowPadding":-0.5,"symbolType":"circle","symbolSize":20,"symbolOpacity":1,"symbolStrokeWidth":0,"symbolDash":[],"labelFont":"Liberation Sans","labelFontSize":7,"labelColor":"#000","labelOffset":3,"labelLimit":60,"clipHeight":7,"padding":0},"scale":{"domain":["CSS121015","DES13S2cmm","DES14X2taz","Gaia16apd","iPTF13ehe","LSQ12dlf"," ","LSQ14bdq","PS1-10awh","PS1-11ap","PS1-14bj","PS15br","PTF12dam","  ","SCP06F6","SN 2005ap","SN 2007bi","SN 2008es","SN 2010kd","SN 2013hx","SN 2015bn"],"range":["#ff8080","#ff0000","#ff00ff","#0080ff","#000080","#ff80c0","#ffffff","#800000","#80ff00","#8080c0","#808080","#8080ff","#008040","#ffffff","#004080","#00ff80","#0000ff","#00ffff","#ff8040","#ffff80","#8000ff"]}}}},
{"data":{"name":"pts"},"mark":{"type":"point","filled":true,"size":7.5,"opacity":1,"clip":true},
"encoding":{"x":{"field":"d","type":"quantitative","axis":{"orient":"top","values":[-100,0,100,200,300],"labels":false,"title":null,"tickSize":-4.7,"tickColor":"#000","tickWidth":0.8,"domain":false,"grid":false}},
"y":{"field":"L","type":"quantitative","axis":{"orient":"right","values":[1e42,1e43,1e44,1e45],"labels":false,"title":null,"tickSize":-4.7,"tickColor":"#000","tickWidth":0.8,"domain":false,"grid":false}},
"color":{"field":"sn","type":"nominal"}}},
{"data":{"name":"frame"},"mark":{"type":"point","opacity":0},
"encoding":{"x":{"field":"d","type":"quantitative","axis":{"orient":"bottom","values":[-50,50,150,250],"labels":false,"title":null,"tickSize":-2.5,"tickColor":"#000","tickWidth":0.8,"domain":false,"grid":false}},
"y":{"field":"L","type":"quantitative","axis":{"orient":"left","values":[3e41,4e41,5e41,6e41,7e41,8e41,9e41,2e42,3e42,4e42,5e42,6e42,7e42,8e42,9e42,2e43,3e43,4e43,5e43,6e43,7e43,8e43,9e43,2e44,3e44,4e44,5e44,6e44,7e44,8e44,9e44],"labels":false,"title":null,"tickSize":-2.5,"tickColor":"#000","tickWidth":0.8,"domain":false,"grid":false}}}},
{"data":{"name":"frame"},"mark":{"type":"point","opacity":0},
"encoding":{"x":{"field":"d","type":"quantitative","axis":{"orient":"top","values":[-50,50,150,250],"labels":false,"title":null,"tickSize":-2.5,"tickColor":"#000","tickWidth":0.8,"domain":false,"grid":false}},
"y":{"field":"L","type":"quantitative","axis":{"orient":"right","values":[3e41,4e41,5e41,6e41,7e41,8e41,9e41,2e42,3e42,4e42,5e42,6e42,7e42,8e42,9e42,2e43,3e43,4e43,5e43,6e43,7e43,8e43,9e43,2e44,3e44,4e44,5e44,6e44,7e44,8e44,9e44],"labels":false,"title":null,"tickSize":-2.5,"tickColor":"#000","tickWidth":0.8,"domain":false,"grid":false}}}}
],
"resolve":{"axis":{"x":"independent","y":"independent"}}}
